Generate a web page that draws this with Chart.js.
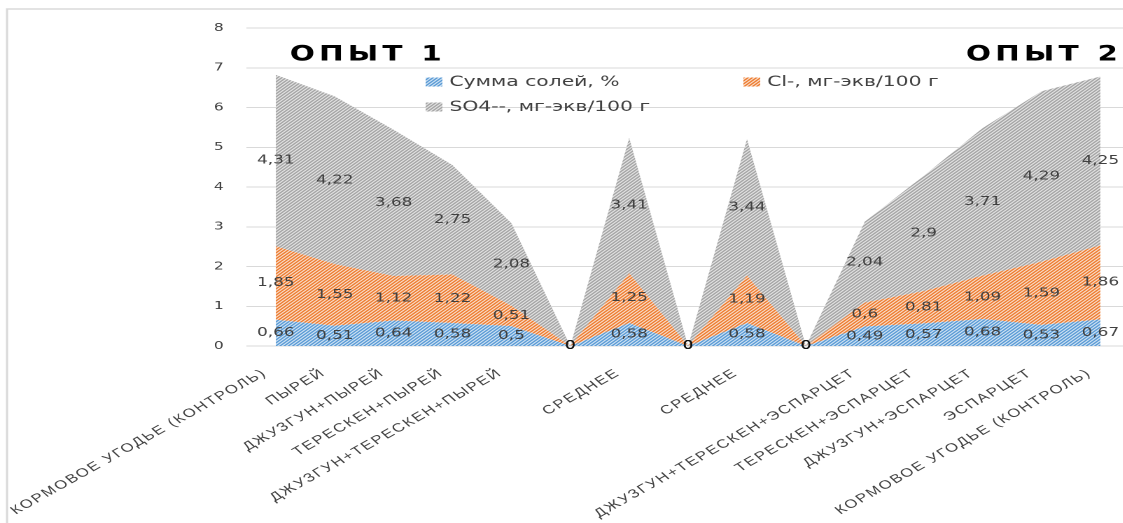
<!DOCTYPE html>
<html>
<head>
<meta charset="utf-8">
<script src="https://cdn.jsdelivr.net/npm/chart.js@4.4.1/dist/chart.umd.min.js"></script>
<style>
  html, body { margin: 0; padding: 0; background: #fff; overflow: hidden; width: 1123px; height: 523px; }
  /* the drawing is laid out on a narrow canvas and shown widened 1.4x */
  #chart { display: block; width: 1141px; height: 523px; }
</style>
</head>
<body>
<canvas id="chart" width="815" height="523" style="width:1141px;height:523px"></canvas>
<script>
// Categories: experiment 1 (left), two averages, experiment 2 (right)
const categories = [
  'КОРМОВОЕ УГОДЬЕ (КОНТРОЛЬ)', 'ПЫРЕЙ', 'ДЖУЗГУН+ПЫРЕЙ', 'ТЕРЕСКЕН+ПЫРЕЙ',
  'ДЖУЗГУН+ТЕРЕСКЕН+ПЫРЕЙ', '', 'СРЕДНЕЕ', '', 'СРЕДНЕЕ', '',
  'ДЖУЗГУН+ТЕРЕСКЕН+ЭСПАРЦЕТ', 'ТЕРЕСКЕН+ЭСПАРЦЕТ', 'ДЖУЗГУН+ЭСПАРЦЕТ',
  'ЭСПАРЦЕТ', 'КОРМОВОЕ УГОДЬЕ (КОНТРОЛЬ)'
];
const saltSum  = [0.66, 0.51, 0.64, 0.58, 0.5, 0, 0.58, 0, 0.58, 0, 0.49, 0.57, 0.68, 0.53, 0.67];
const chloride = [1.85, 1.55, 1.12, 1.22, 0.51, 0, 1.25, 0, 1.19, 0, 0.6, 0.81, 1.09, 1.59, 1.86];
const sulfate  = [4.31, 4.22, 3.68, 2.75, 2.08, 0, 3.41, 0, 3.44, 0, 2.04, 2.9, 3.71, 4.29, 4.25];
const seriesNames = ['Сумма солей, %', 'Cl-, мг-экв/100 г', 'SO4--, мг-экв/100 г'];
const panelTitles = ['ОПЫТ 1', 'ОПЫТ 2'];
const yMin = 0, yMax = 8, yStep = 1;

const canvas = document.getElementById('chart');
const ctx = canvas.getContext('2d');

// diagonal hatch fill
function hatch(fg, bg) {
  const s = 6;
  const t = document.createElement('canvas');
  t.width = t.height = s;
  const g = t.getContext('2d');
  g.fillStyle = bg;
  g.fillRect(0, 0, s, s);
  g.strokeStyle = fg;
  g.lineWidth = 2.4;
  g.beginPath();
  g.moveTo(-s, s); g.lineTo(s, -s);
  g.moveTo(0, s); g.lineTo(s, 0);
  g.moveTo(0, 2 * s); g.lineTo(2 * s, 0);
  g.stroke();
  const p = ctx.createPattern(t, 'repeat');
  p.setTransform(new DOMMatrix().scale(0.5));
  return p;
}

const fills = [
  hatch('#5b9bd5', '#d6e7f6'),
  hatch('#ed7d31', '#fbe2d2'),
  hatch('#a5a5a5', '#e6e6e6')
];

const fmt = v => String(v).replace('.', ',');

// chart frame + spaced tick lettering
const framePlugin = {
  id: 'frame',
  beforeDraw(chart) {
    const c = chart.ctx;
    c.save();
    c.strokeStyle = '#d9d9d9';
    c.lineWidth = 1.5;
    c.beginPath();
    c.moveTo(5, chart.height);
    c.lineTo(5, 9);
    c.lineTo(chart.width, 9);
    c.stroke();
    c.restore();
    c.letterSpacing = '1.3px';
  },
  beforeDatasetsDraw(chart) {
    chart.ctx.letterSpacing = '0px';
  }
};

// value labels in the middle of each stacked band
const valueLabels = {
  id: 'valueLabels',
  afterDatasetsDraw(chart) {
    const c = chart.ctx;
    const xs = chart.scales.x, ys = chart.scales.y;
    const sets = chart.data.datasets;
    c.save();
    c.font = '12px "DejaVu Sans"';
    c.textAlign = 'center';
    c.textBaseline = 'middle';
    sets.forEach((ds, i) => {
      ds.data.forEach((v, j) => {
        let base = 0;
        for (let k = 0; k < i; k++) base += sets[k].data[j];
        const px = xs.getPixelForValue(j);
        const py = ys.getPixelForValue(base + v / 2);
        c.fillStyle = v === 0 ? '#111' : '#404040';
        c.fillText(fmt(v), px, py);
      });
    });
    c.restore();
  }
};

// legend inside the plot and the two panel headings
const overlay = {
  id: 'overlay',
  afterDraw(chart) {
    const c = chart.ctx;
    const sets = chart.data.datasets;
    const slots = [[304, 82], [531, 82], [304, 107]];
    c.save();
    c.font = '14.5px "DejaVu Sans"';
    c.textBaseline = 'middle';
    c.textAlign = 'left';
    sets.forEach((ds, i) => {
      const [bx, by] = slots[i];
      c.fillStyle = ds.backgroundColor;
      c.fillRect(bx, by - 4.5, 12, 9);
      c.fillStyle = '#404040';
      c.fillText(ds.label, bx + 17, by);
    });
    c.font = 'bold 21px "DejaVu Sans"';
    c.fillStyle = '#000';
    c.letterSpacing = '3px';
    c.fillText(panelTitles[0], 207, 55);
    c.fillText(panelTitles[1], 690, 55);
    c.restore();
  }
};

new Chart(ctx, {
  type: 'line',
  data: {
    labels: categories,
    datasets: [
      { label: seriesNames[0], data: saltSum,  backgroundColor: fills[0], fill: 'origin' },
      { label: seriesNames[1], data: chloride, backgroundColor: fills[1], fill: '-1' },
      { label: seriesNames[2], data: sulfate,  backgroundColor: fills[2], fill: '-1' }
    ]
  },
  options: {
    responsive: false,
    devicePixelRatio: 2,
    animation: false,
    layout: { padding: { top: 28, right: 5, bottom: 0, left: 0 } },
    elements: {
      line: { borderWidth: 0, tension: 0 },
      point: { radius: 0, hoverRadius: 0 }
    },
    plugins: {
      legend: { display: false },
      tooltip: { enabled: false },
      filler: { propagate: false }
    },
    scales: {
      x: {
        offset: true,
        grid: { display: false, drawTicks: false },
        border: { display: false },
        ticks: {
          autoSkip: false,
          minRotation: 38,
          maxRotation: 38,
          padding: 20,
          labelOffset: -8,
          color: '#404040',
          font: { family: 'Liberation Sans', size: 12 }
        },
        afterFit(scale) { scale.height = 177; }
      },
      y: {
        stacked: true,
        min: yMin,
        max: yMax,
        grid: { color: '#d9d9d9', lineWidth: 1, drawTicks: false },
        border: { display: false },
        ticks: {
          stepSize: yStep,
          padding: 15,
          color: '#404040',
          font: { family: 'DejaVu Sans', size: 11 }
        },
        afterFit(scale) { scale.width = 176; }
      }
    }
  },
  plugins: [framePlugin, valueLabels, overlay]
});
</script>
</body>
</html>
